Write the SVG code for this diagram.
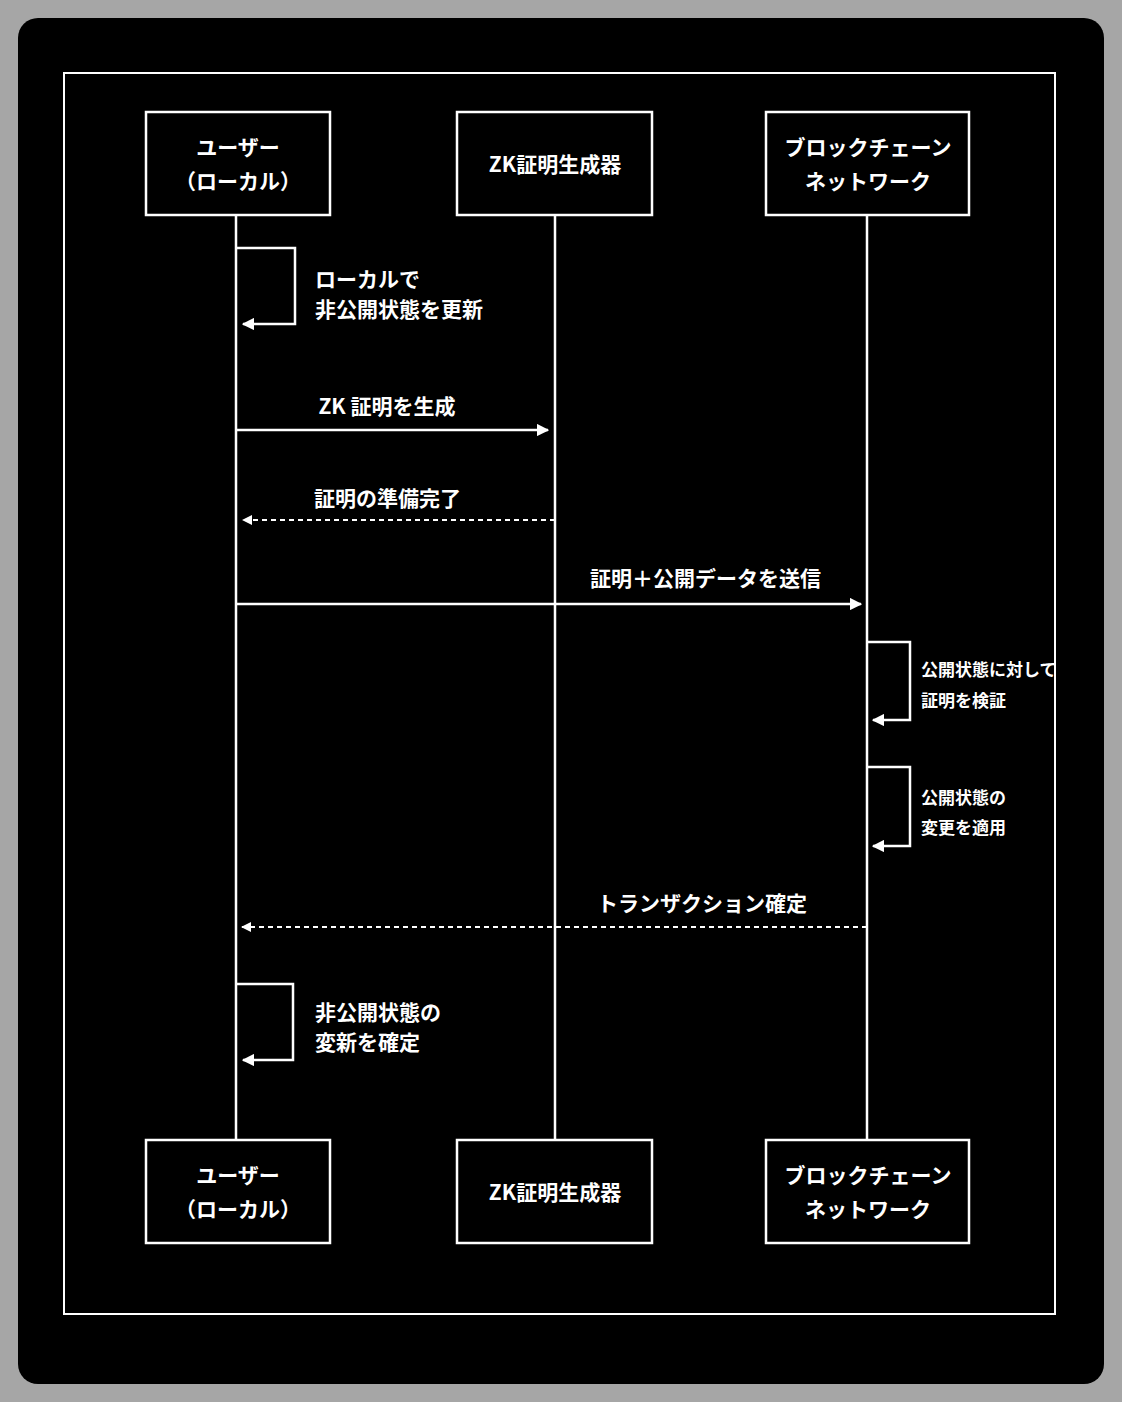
<svg xmlns="http://www.w3.org/2000/svg" width="1122" height="1402" viewBox="0 0 1122 1402">
<style>
.box{fill:#000;stroke:#fff;stroke-width:2.5}
.t{fill:#fff;font-family:"Noto Sans CJK JP","Noto Sans",sans-serif;font-weight:bold;font-size:21px}
.s{fill:#fff;font-family:"Noto Sans CJK JP","Noto Sans",sans-serif;font-weight:bold;font-size:17px}
.l{stroke:#fff;stroke-width:2.5;fill:none}
.d{stroke:#fff;stroke-width:2;fill:none;stroke-dasharray:5,4}
</style>
<defs><marker id="a" viewBox="0 0 10 10" refX="9" refY="5" markerWidth="5" markerHeight="5" orient="auto-start-reverse"><path d="M0,0L10,5L0,10z" fill="#fff"/></marker></defs>
<rect width="1122" height="1402" fill="#a6a6a6"/>
<rect x="18" y="18" width="1086" height="1366" rx="20" fill="#000"/>
<rect x="64" y="73" width="991" height="1241" fill="none" stroke="#fff" stroke-width="2"/>
<g id="lifelines">
<line class="l" x1="236" y1="215" x2="236" y2="1140"/>
<line class="l" x1="555" y1="215" x2="555" y2="1140"/>
<line class="l" x1="867" y1="215" x2="867" y2="1140"/>
</g>
<g id="p1"><rect class="box" x="146" y="112" width="184" height="103"/><text class="t" x="238" y="155" text-anchor="middle">ユーザー</text><text class="t" x="238" y="189" text-anchor="middle">（ローカル）</text></g>
<g id="p2"><rect class="box" x="457" y="112" width="195" height="103"/><text class="t" x="555" y="172" text-anchor="middle">ZK証明生成器</text></g>
<g id="p3"><rect class="box" x="766" y="112" width="203" height="103"/><text class="t" x="868" y="155" text-anchor="middle">ブロックチェーン</text><text class="t" x="868" y="189" text-anchor="middle">ネットワーク</text></g>
<g id="p1b"><rect class="box" x="146" y="1140" width="184" height="103"/><text class="t" x="238" y="1183" text-anchor="middle">ユーザー</text><text class="t" x="238" y="1217" text-anchor="middle">（ローカル）</text></g>
<g id="p2b"><rect class="box" x="457" y="1140" width="195" height="103"/><text class="t" x="555" y="1200" text-anchor="middle">ZK証明生成器</text></g>
<g id="p3b"><rect class="box" x="766" y="1140" width="203" height="103"/><text class="t" x="868" y="1183" text-anchor="middle">ブロックチェーン</text><text class="t" x="868" y="1217" text-anchor="middle">ネットワーク</text></g>
<g id="connectors">
<path class="l" d="M236,248H295V324H243" marker-end="url(#a)"/>
<line class="l" x1="236" y1="430" x2="548" y2="430" marker-end="url(#a)"/>
<line class="d" x1="555" y1="520" x2="243" y2="520" marker-end="url(#a)"/>
<line class="l" x1="236" y1="604" x2="861" y2="604" marker-end="url(#a)"/>
<path class="l" d="M867,642H910V720H873" marker-end="url(#a)"/>
<path class="l" d="M867,767H910V846H873" marker-end="url(#a)"/>
<line class="d" x1="867" y1="927" x2="242" y2="927" marker-end="url(#a)"/>
<path class="l" d="M236,984H293V1060H243" marker-end="url(#a)"/>
</g>
<g id="labels">
<text class="t" x="315" y="287" font-size="20">ローカルで</text>
<text class="t" x="315" y="317" font-size="20">非公開状態を更新</text>
<text class="t" x="387" y="414" text-anchor="middle">ZK 証明を生成</text>
<text class="t" x="314" y="506">証明の準備完了</text>
<text class="t" x="590" y="586">証明＋公開データを送信</text>
<text class="s" x="921" y="676">公開状態に対して</text>
<text class="s" x="921" y="707">証明を検証</text>
<text class="s" x="921" y="804">公開状態の</text>
<text class="s" x="921" y="834">変更を適用</text>
<text class="t" x="597" y="911">トランザクション確定</text>
<text class="t" x="315" y="1020" font-size="20">非公開状態の</text>
<text class="t" x="315" y="1050" font-size="20">変新を確定</text>
</g>
</svg>
